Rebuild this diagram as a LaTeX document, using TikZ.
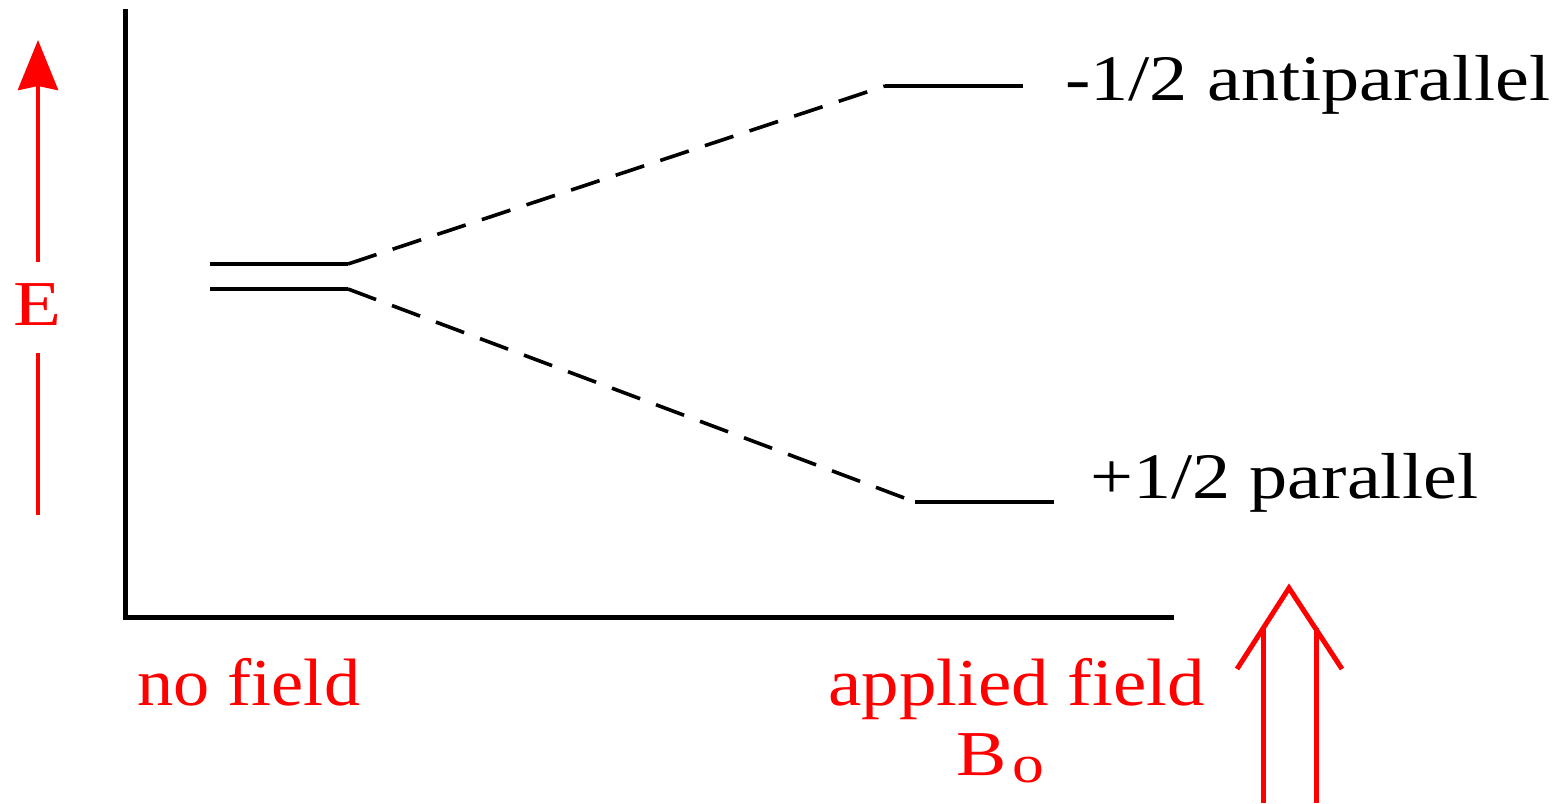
\documentclass[tikz,border=0pt]{standalone}
\usepackage{fontspec}
\setmainfont{Liberation Serif}
\usepackage{graphicx}
\usetikzlibrary{arrows.meta}
\definecolor{pured}{RGB}{255,0,0}
\tikzset{
  axisline/.style={line width=5pt, black},
  level/.style={line width=4pt, black},
  connector/.style={line width=3.6pt, black, dash pattern=on 30pt off 17pt},
  redline/.style={line width=4.5pt, pured},
  lbl/.style={inner sep=0pt, anchor=base west, font=\fontsize{65}{65}\selectfont},
  redlbl/.style={lbl, text=pured, font=\fontsize{67}{67}\selectfont},
}
\begin{document}
\begin{tikzpicture}[x=1pt,y=-1pt]
\useasboundingbox (0,0) rectangle (1565,803);
% axes
\coordinate (ytop) at (125,9);
\coordinate (origin) at (125,617);
\coordinate (xend) at (1174,617);
\draw[axisline] (ytop) -- (origin) -- (xend);
% no-field levels
\coordinate (a1) at (210,264);
\coordinate (a2) at (348,264);
\coordinate (b1) at (210,289);
\coordinate (b2) at (348,289);
\draw[level] (a1) -- (a2);
\draw[level] (b1) -- (b2);
% split levels
\coordinate (u1) at (885,86);
\coordinate (u2) at (1023,86);
\coordinate (l1) at (915,502);
\coordinate (l2) at (1054,502);
\draw[level] (u1) -- (u2);
\draw[level] (l1) -- (l2);
\draw[connector] (a2) -- (u1);
\draw[connector] (b2) -- (l1);
% labels
\node[lbl] (anti) at (1065,100) {\resizebox{485pt}{\height}{-1/2 antiparallel}};
\node[lbl] (para) at (1090,498) {\resizebox{388pt}{\height}{+1/2 parallel}};
\node[redlbl] (nofield) at (137,705) {\resizebox{223pt}{\height}{no field}};
\node[redlbl] (applied) at (828,705) {\resizebox{377pt}{\height}{applied field}};
\node[redlbl, font=\fontsize{64}{64}\selectfont] (bo) at (956,775) {\resizebox{88pt}{\height}{B\kern5pt\raisebox{-7pt}{\fontsize{54}{54}\selectfont o}}};
% energy arrow
\node[inner sep=0pt, text=pured, font=\fontsize{64}{64}\selectfont] (E) at (37,305) {\resizebox{48pt}{\height}{E}};
\coordinate (e0) at (38,515);
\coordinate (e1) at (38,353);
\coordinate (e2) at (38,262);
\coordinate (etip) at (38,40);
\draw[redline] (e0) -- (e1);
\draw[redline, -{Stealth[length=50pt,width=40pt,inset=4pt]}] (e2) -- (etip);
% field arrow
\coordinate (f1b) at (1263,803);
\coordinate (f1t) at (1263,628);
\coordinate (f2b) at (1316,803);
\coordinate (f2t) at (1316,628);
\coordinate (cl) at (1237,669);
\coordinate (ca) at (1289,588);
\coordinate (cr) at (1342,669);
\draw[redline, line width=5pt] (f1b) -- (f1t);
\draw[redline, line width=5pt] (f2b) -- (f2t);
\draw[redline, line width=5pt] (cl) -- (ca) -- (cr);
\end{tikzpicture}
\end{document}
